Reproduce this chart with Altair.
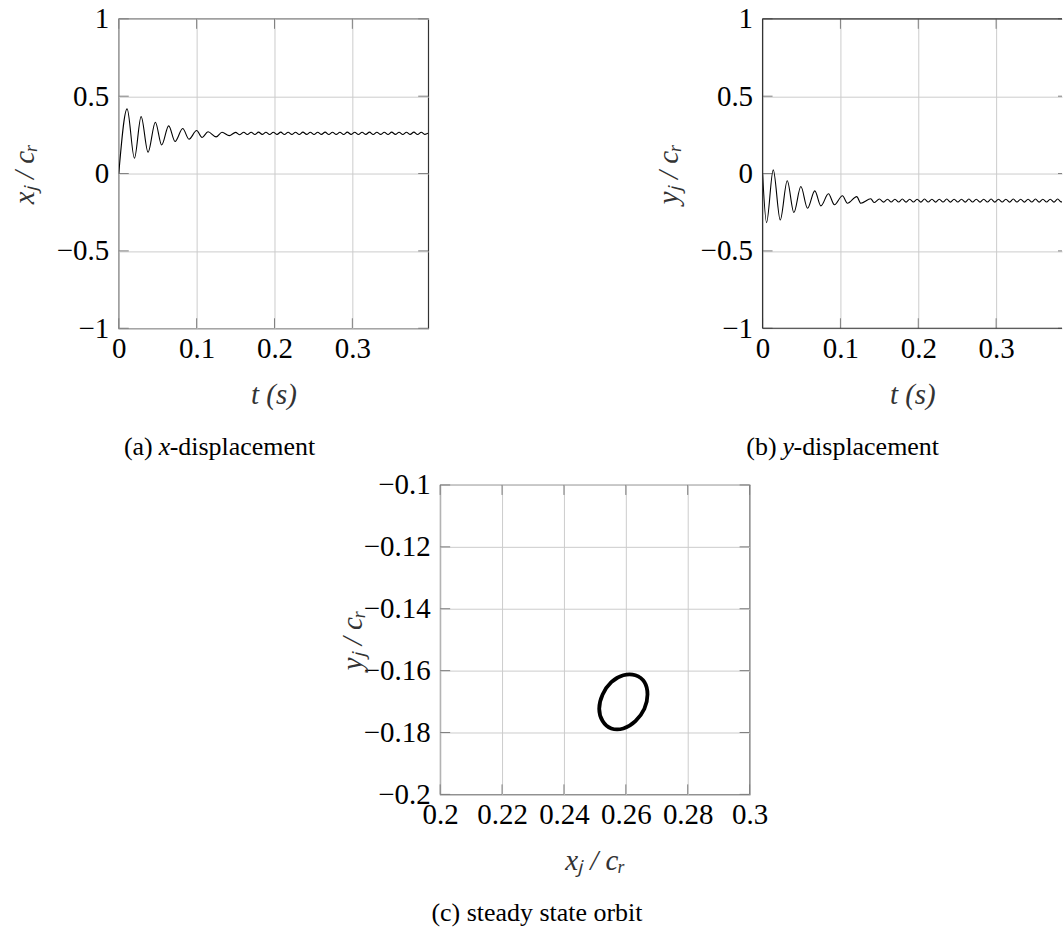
import altair as alt
import pandas as pd

# ---------------- data ----------------
# (a) x_j / c_r : turning points of the start-up transient
t_transient_x = [0.0, 0.0107, 0.0201, 0.0287, 0.0376, 0.0470, 0.0551, 0.0641, 0.0723, 0.0821,
                 0.0902, 0.1000, 0.1070, 0.1146, 0.1250, 0.1326, 0.1420, 0.1500, 0.1555, 0.1605,
                 0.1652]
x_transient = [0.0, 0.418, 0.099, 0.368, 0.138, 0.332, 0.185, 0.308, 0.207, 0.291,
               0.222, 0.278, 0.233, 0.270, 0.237, 0.267, 0.245, 0.266, 0.251, 0.267,
               0.252]

# (b) y_j / c_r : turning points of the start-up transient
t_transient_y = [0.0, 0.0051, 0.0137, 0.0227, 0.0317, 0.0402, 0.0492, 0.0577, 0.0671, 0.0749,
                 0.0846, 0.0923, 0.1026, 0.1090, 0.1210, 0.1262, 0.1390, 0.1432, 0.1500, 0.1555,
                 0.1605, 0.1652]
y_transient = [0.0, -0.317, 0.024, -0.300, -0.047, -0.252, -0.084, -0.224, -0.112, -0.209,
               -0.131, -0.202, -0.144, -0.192, -0.149, -0.192, -0.163, -0.187, -0.165, -0.185,
               -0.166, -0.184]

# steady-state ripple: turning points shared by both displacement traces
t_ripple = [0.1700, 0.1748, 0.1795, 0.1843, 0.1890, 0.1938, 0.1985, 0.2033, 0.2080, 0.2128,
            0.2175, 0.2223, 0.2270, 0.2318, 0.2365, 0.2413, 0.2460, 0.2508, 0.2555, 0.2603,
            0.2650, 0.2698, 0.2745, 0.2793, 0.2840, 0.2888, 0.2935, 0.2983, 0.3030, 0.3078,
            0.3125, 0.3173, 0.3220, 0.3268, 0.3315, 0.3363, 0.3410, 0.3458, 0.3505, 0.3553,
            0.3600, 0.3648, 0.3695, 0.3743, 0.3790, 0.3838, 0.3885, 0.3933, 0.3970]
x_ripple = [0.267, 0.252, 0.268, 0.253, 0.267, 0.252, 0.267, 0.253, 0.268, 0.252,
            0.267, 0.253, 0.267, 0.252, 0.268, 0.253, 0.267, 0.252, 0.267, 0.253,
            0.268, 0.252, 0.267, 0.253, 0.267, 0.252, 0.268, 0.253, 0.267, 0.252,
            0.267, 0.253, 0.268, 0.252, 0.267, 0.253, 0.267, 0.252, 0.268, 0.253,
            0.267, 0.252, 0.267, 0.253, 0.268, 0.252, 0.267, 0.253, 0.260]
y_ripple = [-0.166, -0.184, -0.165, -0.185, -0.166, -0.184, -0.166, -0.185, -0.165, -0.184,
            -0.166, -0.185, -0.166, -0.184, -0.165, -0.185, -0.166, -0.184, -0.166, -0.185,
            -0.165, -0.184, -0.166, -0.185, -0.166, -0.184, -0.165, -0.185, -0.166, -0.184,
            -0.166, -0.185, -0.165, -0.184, -0.166, -0.185, -0.166, -0.184, -0.165, -0.185,
            -0.166, -0.184, -0.166, -0.185, -0.165, -0.184, -0.166, -0.185, -0.175]

# (c) steady-state journal orbit, points around the loop
orbit_x = [0.2670, 0.2660, 0.2631, 0.2592, 0.2553, 0.2525,
           0.2514, 0.2525, 0.2553, 0.2592, 0.2631, 0.2660]
orbit_y = [-0.1677, -0.1637, -0.1615, -0.1615, -0.1637, -0.1677,
           -0.1723, -0.1763, -0.1787, -0.1787, -0.1763, -0.1723]

t_ticks = [0, 0.1, 0.2, 0.3]
disp_ticks = [-1, -0.5, 0, 0.5, 1]
orbit_x_ticks = [0.2, 0.22, 0.24, 0.26, 0.28, 0.3]
orbit_y_ticks = [-0.2, -0.18, -0.16, -0.14, -0.12, -0.1]

# ---------------- style ----------------
SERIF = "Liberation Serif"
LABEL_SIZE = 29
CAPTION_SIZE = 26
GRID = "#cccccc"
FRAME = "#333333"
TICK = "#808080"
TICK_LEN = 10
W, H = 310, 310
W_B = 300
T_MAX_A = 0.3974
T_MAX_B = 0.3846
CAPTION_Y = H + 119


def make_axis(ticks, title, extent, title_pad, label_pad):
    return alt.Axis(
        values=ticks, format="~g", title=title,
        grid=True, gridColor=GRID, gridWidth=1, gridOpacity=1,
        domain=False, ticks=False,
        labelFont=SERIF, labelFontSize=LABEL_SIZE, labelColor="#000000",
        labelPadding=label_pad, labelFlush=False, labelOverlap=False,
        minExtent=extent, maxExtent=extent,
        titleFont=SERIF, titleFontSize=LABEL_SIZE, titleFontStyle="italic",
        titleFontWeight="normal", titleColor="#333333", titlePadding=title_pad,
    )


one_row = pd.DataFrame({"k": [0]})


def inner_ticks(xticks, yticks, x_enc, y_enc, w, h, right_len=TICK_LEN):
    """Short pgf-style tick marks drawn inside the frame on every side."""
    xdf = pd.DataFrame({"xv": xticks})
    ydf = pd.DataFrame({"yv": yticks})
    bx = alt.Chart(xdf).mark_rule(color=TICK, strokeWidth=1).encode(x=x_enc("xv"))
    by = alt.Chart(ydf).mark_rule(color=TICK, strokeWidth=1).encode(y=y_enc("yv"))
    return [
        bx.encode(y=alt.value(h - TICK_LEN), y2=alt.value(h)),
        bx.encode(y=alt.value(0), y2=alt.value(TICK_LEN)),
        by.encode(x=alt.value(0), x2=alt.value(TICK_LEN)),
        by.encode(x=alt.value(w - right_len), x2=alt.value(w)),
    ]


def caption(parts, x0, y):
    """Caption: upright prefix, italic variable letter starting at x0, upright suffix."""
    layers = []
    pre, var, post, var_w = parts
    base = alt.Chart(one_row)
    if var is None:
        layers.append(base.mark_text(font=SERIF, fontSize=CAPTION_SIZE, align="center",
                                     baseline="middle", color="#000000")
                      .encode(x=alt.value(x0), y=alt.value(y), text=alt.value(pre)))
        return layers
    layers.append(base.mark_text(font=SERIF, fontSize=CAPTION_SIZE, align="right",
                                 baseline="middle", color="#000000")
                  .encode(x=alt.value(x0 - 6), y=alt.value(y), text=alt.value(pre)))
    layers.append(base.mark_text(font=SERIF, fontSize=CAPTION_SIZE, fontStyle="italic",
                                 align="left", baseline="middle", color="#000000")
                  .encode(x=alt.value(x0), y=alt.value(y), text=alt.value(var)))
    layers.append(base.mark_text(font=SERIF, fontSize=CAPTION_SIZE, align="left",
                                 baseline="middle", color="#000000")
                  .encode(x=alt.value(x0 + var_w), y=alt.value(y), text=alt.value(post)))
    return layers


# ---------------- (a) x-displacement ----------------
df_a = pd.DataFrame({"t": t_transient_x + t_ripple, "v": x_transient + x_ripple})
ax_t_a = make_axis(t_ticks, "t (s)", 34, 18, 6)
ax_d_a = make_axis(disp_ticks, "xⱼ / cᵣ", 70, 9, 10)
sx_a = alt.Scale(domain=[0, T_MAX_A], nice=False, zero=False)
sy_d = alt.Scale(domain=[-1, 1], nice=False)


def xa(f):
    return alt.X(f"{f}:Q", scale=sx_a, axis=ax_t_a)


def ya(f):
    return alt.Y(f"{f}:Q", scale=sy_d, axis=ax_d_a)


line_a = alt.Chart(df_a).mark_line(color="#000000", strokeWidth=1.1,
                                   interpolate="monotone", clip=True).encode(x=xa("t"), y=ya("v"))
panel_a = alt.layer(
    *inner_ticks(t_ticks, disp_ticks, xa, ya, W, H),
    line_a,
    *caption(("(a)", "x", "-displacement", 11), 40, CAPTION_Y),
).properties(width=W, height=H, view=alt.ViewBackground(stroke=FRAME, strokeWidth=1.2, fill="white"))

# ---------------- (b) y-displacement ----------------
df_b = pd.DataFrame({"t": t_transient_y + t_ripple, "v": y_transient + y_ripple})
ax_t_b = make_axis(t_ticks, "t (s)", 34, 18, 6)
ax_d_b = make_axis(disp_ticks, "yⱼ / cᵣ", 70, 9, 10)
sx_b = alt.Scale(domain=[0, T_MAX_B], nice=False, zero=False)


def xb(f):
    return alt.X(f"{f}:Q", scale=sx_b, axis=ax_t_b)


def yb(f):
    return alt.Y(f"{f}:Q", scale=sy_d, axis=ax_d_b)


line_b = alt.Chart(df_b).mark_line(color="#000000", strokeWidth=1.1,
                                   interpolate="monotone", clip=True).encode(x=xb("t"), y=yb("v"))
frame_b = alt.Chart(one_row).mark_rule(color=FRAME, strokeWidth=1.2)
panel_b = alt.layer(
    *inner_ticks(t_ticks, disp_ticks, xb, yb, W_B, H, right_len=4),
    line_b,
    frame_b.encode(x=alt.value(0), y=alt.value(0), y2=alt.value(H)),
    frame_b.encode(y=alt.value(0), x=alt.value(0), x2=alt.value(W_B)),
    frame_b.encode(y=alt.value(H), x=alt.value(0), x2=alt.value(W_B)),
    *caption(("(b)", "y", "-displacement", 11), 20, CAPTION_Y),
).properties(width=W_B, height=H, view=alt.ViewBackground(stroke="transparent", fill="white"))

# ---------------- (c) steady state orbit ----------------
df_c = pd.DataFrame({"i": list(range(len(orbit_x))), "x": orbit_x, "y": orbit_y})
ax_x_c = make_axis(orbit_x_ticks, "xⱼ / cᵣ", 34, 18, 6)
ax_y_c = make_axis(orbit_y_ticks, "yⱼ / cᵣ", 64, 9, 10)
sx_c = alt.Scale(domain=[0.2, 0.3], nice=False, zero=False)
sy_c = alt.Scale(domain=[-0.2, -0.1], nice=False, zero=False)


def xc(f):
    return alt.X(f"{f}:Q", scale=sx_c, axis=ax_x_c)


def yc(f):
    return alt.Y(f"{f}:Q", scale=sy_c, axis=ax_y_c)


orbit = alt.Chart(df_c).mark_line(color="#000000", strokeWidth=3.8,
                                  interpolate="cardinal-closed").encode(
    x=xc("x"), y=yc("y"), order=alt.Order("i:Q"))
panel_c = alt.layer(
    *inner_ticks(orbit_x_ticks, orbit_y_ticks, xc, yc, W, H),
    orbit,
    *caption(("(c) steady state orbit", None, None, 0), 97, CAPTION_Y),
).properties(width=W, height=H, view=alt.ViewBackground(stroke=FRAME, strokeWidth=1.2, fill="white"))

spacer = alt.Chart(one_row).mark_point(opacity=0).encode(
    x=alt.value(0), y=alt.value(0)
).properties(width=12, height=10, view=alt.ViewBackground(stroke="transparent"))

top_row = alt.hconcat(panel_a, panel_b, spacing=335, bounds="flush")
bottom_row = alt.hconcat(spacer, panel_c, spacing=310, bounds="flush")

# nested rows report no height under flush bounds, so the row gap carries the panel height
chart = alt.vconcat(top_row, bottom_row, spacing=467, bounds="flush").properties(
    padding={"left": 10, "top": 3, "right": 0, "bottom": 0},
    background="white",
)

chart.save("out.html", embed_options={"renderer": "svg", "actions": False})
